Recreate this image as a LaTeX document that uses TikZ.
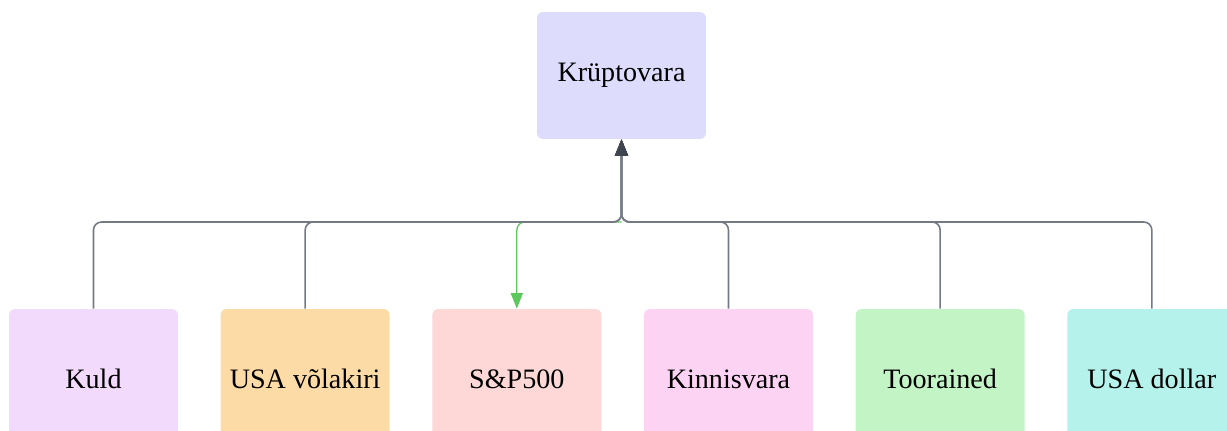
\documentclass[tikz,border=0pt]{standalone}
\usepackage{fontspec}
\setmainfont{Liberation Serif}
\usepackage{xcolor}
\usepackage{tikz}
\usetikzlibrary{positioning, arrows.meta}

\definecolor{topfill}{HTML}{DEDCFD}
\definecolor{kuldfill}{HTML}{F2DAFD}
\definecolor{bondfill}{HTML}{FCDBA6}
\definecolor{spfill}{HTML}{FED7D7}
\definecolor{estatefill}{HTML}{FDD3F3}
\definecolor{goodsfill}{HTML}{C3F4C6}
\definecolor{dollarfill}{HTML}{B5F2EB}
\definecolor{linkgray}{HTML}{737A84}
\definecolor{tipgray}{HTML}{3F4650}
\definecolor{linkgreen}{HTML}{5CC95F}

\begin{document}
\begin{tikzpicture}[
        x=0.02cm, y=-0.02cm,
        % 方框之间的横向间距
        node distance=0.84cm,
        % 顶部方框样式
        topbox/.style={
            rectangle,
            rounded corners=3.4pt,
            fill=topfill,
            minimum width=3.38cm,
            minimum height=2.54cm,
            text centered,
            font=\fontsize{16}{19}\selectfont
        },
        % 底部方框样式
        assetbox/.style={
            rectangle,
            rounded corners=3.4pt,
            minimum width=3.38cm,
            minimum height=2.8cm,
            text centered,
            font=\fontsize{16}{19}\selectfont
        },
        % 连线样式
        link/.style={
            draw=linkgray,
            line width=0.9pt,
            rounded corners=0.16cm
        },
        % 箭头样式
        arrow/.style={
            link,
            -{Triangle[length=3.3mm, width=2.6mm, color=tipgray]}
        },
        greenarrow/.style={
            draw=linkgreen,
            line width=0.75pt,
            rounded corners=0.16cm,
            -{Triangle[length=3.1mm, width=2.4mm, color=linkgreen]}
        }
    ]

    \useasboundingbox (0,0) rectangle (1227,430);

    % 1. 顶部节点
    \node[topbox] (crypto) at (621.5,75.5) {Krüptovara};

    % 2. 底部节点 (从左到右)
    \node[assetbox, fill=kuldfill] (kuld) at (93.5,379) {Kuld};
    \node[assetbox, fill=bondfill, right=of kuld] (bond) {USA võlakiri};
    \node[assetbox, fill=spfill, right=of bond] (sp) {S\&P500};
    \node[assetbox, fill=estatefill, right=of sp] (estate) {Kinnisvara};
    \node[assetbox, fill=goodsfill, right=of estate] (goods) {Toorained};
    \node[assetbox, fill=dollarfill, right=of goods] (dollar) {USA dollar};

    % 汇合点
    \coordinate (hub) at (621.5,222);

    % 3. 绿色箭头先画，灰线覆盖其横向部分
    \draw[greenarrow] (hub) -| (sp.north);

    % 4. 灰色连线汇入顶部节点
    \draw[arrow] (kuld.north) |- (hub) -- (crypto.south);
    \draw[arrow] (bond.north) |- (hub) -- (crypto.south);
    \draw[arrow] (estate.north) |- (hub) -- (crypto.south);
    \draw[arrow] (goods.north) |- (hub) -- (crypto.south);
    \draw[arrow] (dollar.north) |- (hub) -- (crypto.south);

\end{tikzpicture}
\end{document}
